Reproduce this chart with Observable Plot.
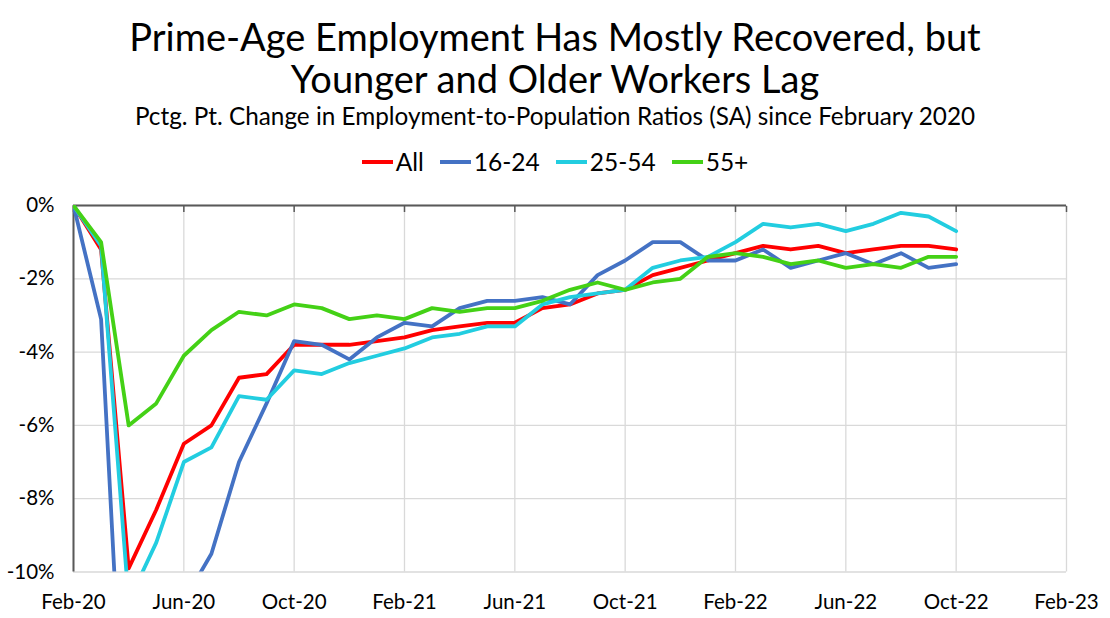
<!DOCTYPE html>
<html><head><meta charset="utf-8">
<script src="https://cdn.jsdelivr.net/npm/d3@7"></script>
<script src="https://cdn.jsdelivr.net/npm/@observablehq/plot@0.6"></script>
<style>
body{margin:0;background:#fff;font-family:Lato,sans-serif;}
#wrap{position:relative;width:1110px;height:618px;overflow:hidden;background:#fff;}
.t{position:absolute;left:0;width:1110px;text-align:center;color:#000;white-space:nowrap;}
#t1{top:14px;font-size:38px;line-height:44px;}
#t2{top:56px;font-size:38px;line-height:44px;}
#sub{top:102px;font-size:24.3px;line-height:28px;}
#legend{position:absolute;top:148px;left:0;width:1110px;display:flex;justify-content:center;font-size:24.5px;line-height:28px;color:#000;}
.item{display:flex;align-items:center;margin:0 8px;}
.sw{display:inline-block;width:31px;height:4px;margin-right:3px;}
#chart{position:absolute;top:185px;left:0;}
</style></head>
<body><div id="wrap">
<div class="t" id="t1">Prime-Age Employment Has Mostly Recovered, but</div>
<div class="t" id="t2">Younger and Older Workers Lag</div>
<div class="t" id="sub">Pctg. Pt. Change in Employment-to-Population Ratios (SA) since February 2020</div>
<div id="legend"></div>
<div id="chart"></div>
</div>
<script>
const months = ["Feb-20","Mar-20","Apr-20","May-20","Jun-20","Jul-20","Aug-20","Sep-20","Oct-20","Nov-20","Dec-20",
  "Jan-21","Feb-21","Mar-21","Apr-21","May-21","Jun-21","Jul-21","Aug-21","Sep-21","Oct-21","Nov-21","Dec-21",
  "Jan-22","Feb-22","Mar-22","Apr-22","May-22","Jun-22","Jul-22","Aug-22","Sep-22","Oct-22"];
const tickLabels = ["Feb-20","Jun-20","Oct-20","Feb-21","Jun-21","Oct-21","Feb-22","Jun-22","Oct-22","Feb-23"];
const yTicks = [0,-2,-4,-6,-8,-10];
const seriesNames = ["All","16-24","25-54","55+"];
const seriesColors = ["#ff0000","#4472c4","#22cde0","#44d116"];

const allVals =   [0,-1.2,-9.9,-8.3,-6.5,-6.0,-4.7,-4.6,-3.8,-3.8,-3.8,-3.7,-3.6,-3.4,-3.3,-3.2,-3.2,-2.8,-2.7,-2.4,-2.3,-1.9,-1.7,-1.5,-1.3,-1.1,-1.2,-1.1,-1.3,-1.2,-1.1,-1.1,-1.2];
const age1624 =   [0,-3.1,-17.5,-15.0,-10.8,-9.5,-7.0,-5.4,-3.7,-3.8,-4.2,-3.6,-3.2,-3.3,-2.8,-2.6,-2.6,-2.5,-2.7,-1.9,-1.5,-1.0,-1.0,-1.5,-1.5,-1.2,-1.7,-1.5,-1.3,-1.6,-1.3,-1.7,-1.6];
const age2554 =   [0,-1.1,-10.8,-9.2,-7.0,-6.6,-5.2,-5.3,-4.5,-4.6,-4.3,-4.1,-3.9,-3.6,-3.5,-3.3,-3.3,-2.7,-2.5,-2.4,-2.3,-1.7,-1.5,-1.4,-1.0,-0.5,-0.6,-0.5,-0.7,-0.5,-0.2,-0.3,-0.7];
const age55 =     [0,-1.0,-6.0,-5.4,-4.1,-3.4,-2.9,-3.0,-2.7,-2.8,-3.1,-3.0,-3.1,-2.8,-2.9,-2.8,-2.8,-2.6,-2.3,-2.1,-2.3,-2.1,-2.0,-1.4,-1.3,-1.4,-1.6,-1.5,-1.7,-1.6,-1.7,-1.4,-1.4];
const seriesValues = [allVals, age1624, age2554, age55];

// month index positions of the tick labels (every 4 months from Feb-20)
const tickPos = tickLabels.map((d, k) => k * 4);

const lineMarks = seriesValues.map((vals, s) =>
  Plot.line(months.map((m, i) => ({i, v: vals[i]})), {
    x: "i", y: "v", stroke: seriesColors[s], strokeWidth: 3.8,
    strokeLinejoin: "round", strokeLinecap: "round", clip: true
  })
);

const chart = Plot.plot({
  width: 1110, height: 433,
  marginTop: 20, marginBottom: 46.5, marginLeft: 73, marginRight: 44,
  x: {type: "linear", domain: [0, 36]},
  y: {domain: [-10, 0]},
  style: {fontFamily: "Lato, sans-serif", fontSize: "20px", color: "#000", background: "white"},
  marks: [
    Plot.gridX(tickPos, {stroke: "#d9d9d9", strokeOpacity: 1, strokeWidth: 1.3}),
    Plot.gridY(yTicks, {stroke: "#d9d9d9", strokeOpacity: 1, strokeWidth: 1.3}),
    Plot.axisY(yTicks, {anchor: "left", tickSize: 0, tickPadding: 19, tickFormat: d => d + "%", label: null, fill: "#000", fontSize: 20.5}),
    Plot.axisX(tickPos, {anchor: "bottom", tickSize: 0, tickPadding: 22, tickFormat: d => tickLabels[tickPos.indexOf(d)], label: null, fill: "#000", fontSize: 20.5}),
    Plot.axisX(tickPos, {anchor: "top", tickSize: 6, dy: 6, tickFormat: () => "", label: null, stroke: "#595959", strokeWidth: 1.5}),
    Plot.ruleX([0], {stroke: "#595959", strokeWidth: 2}),
    Plot.ruleY([0], {stroke: "#595959", strokeWidth: 2}),
    ...lineMarks
  ]
});
document.getElementById("chart").appendChild(chart);

const legend = document.getElementById("legend");
seriesNames.forEach((name, s) => {
  const item = document.createElement("div");
  item.className = "item";
  const sw = document.createElement("span");
  sw.className = "sw";
  sw.style.background = seriesColors[s];
  const lab = document.createElement("span");
  lab.textContent = name;
  item.appendChild(sw); item.appendChild(lab);
  legend.appendChild(item);
});
</script>
</body></html>
